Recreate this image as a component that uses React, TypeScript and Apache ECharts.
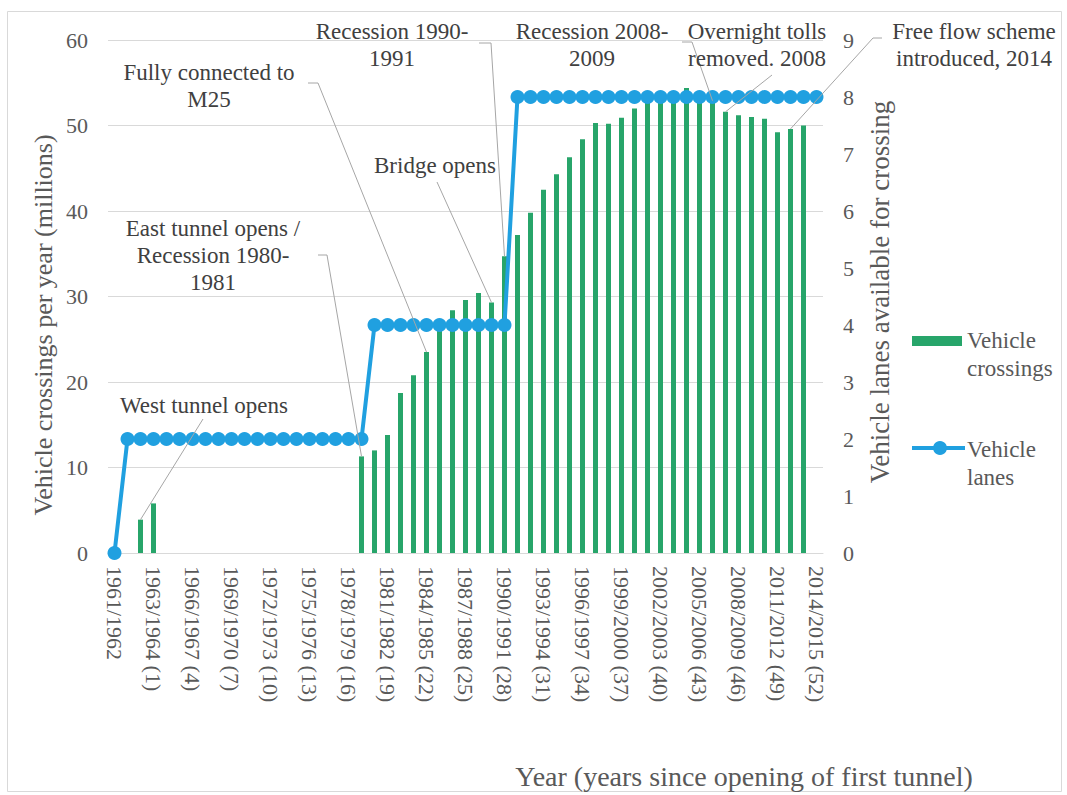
import React, { useEffect, useRef } from "react";
import * as echarts from "echarts";

const categories = [
  "1961/1962", "1962", "1962/1963 (0)", "1963/1964 (1)", "1964/1965 (2)", "1965/1966 (3)",
  "1966/1967 (4)", "1967/1968 (5)", "1968/1969 (6)", "1969/1970 (7)", "1970/1971 (8)",
  "1971/1972 (9)", "1972/1973 (10)", "1973/1974 (11)", "1974/1975 (12)", "1975/1976 (13)",
  "1976/1977 (14)", "1977/1978 (15)", "1978/1979 (16)", "1979/1980 (17)", "1980/1981 (18)",
  "1981/1982 (19)", "1982/1983 (20)", "1983/1984 (21)", "1984/1985 (22)", "1985/1986 (23)",
  "1986/1987 (24)", "1987/1988 (25)", "1988/1989 (26)", "1989/1990 (27)", "1990/1991 (28)",
  "1991/1992 (29)", "1992/1993 (30)", "1993/1994 (31)", "1994/1995 (32)", "1995/1996 (33)",
  "1996/1997 (34)", "1997/1998 (35)", "1998/1999 (36)", "1999/2000 (37)", "2000/2001 (38)",
  "2001/2002 (39)", "2002/2003 (40)", "2003/2004 (41)", "2004/2005 (42)", "2005/2006 (43)",
  "2006/2007 (44)", "2007/2008 (45)", "2008/2009 (46)", "2009/2010 (47)", "2010/2011 (48)",
  "2011/2012 (49)", "2012/2013 (50)", "2013/2014 (51)", "2014/2015 (52)",
];

// Vehicle crossings per year (millions)
const crossings: (number | null)[] = [
  null, null, 3.9, 5.8, null, null, null, null, null, null,
  null, null, null, null, null, null, null, null, null, 11.3,
  12.0, 13.8, 18.7, 20.8, 23.5, 26.8, 28.4, 29.6, 30.4, 29.3,
  34.7, 37.2, 39.8, 42.5, 44.3, 46.3, 48.4, 50.3, 50.2, 50.9,
  52.0, 52.8, 53.0, 53.2, 54.4, 53.2, 52.9, 51.6, 51.2, 51.0,
  50.8, 49.2, 49.6, 50.0, null,
];

// Vehicle lanes available for crossing
const lanes = [
  0, 2, 2, 2, 2, 2, 2, 2, 2, 2,
  2, 2, 2, 2, 2, 2, 2, 2, 2, 2,
  4, 4, 4, 4, 4, 4, 4, 4, 4, 4,
  4, 8, 8, 8, 8, 8, 8, 8, 8, 8,
  8, 8, 8, 8, 8, 8, 8, 8, 8, 8,
  8, 8, 8, 8, 8,
];

const leftTicks = { min: 0, max: 60, interval: 10 };
const rightTicks = { min: 0, max: 9, interval: 1 };

// annotation text, text centre, first line y, leader start polyline, target bar index
const annotations = [
  { text: "West tunnel opens", cx: 204, y: 405, lead: [[203, 419]], target: 2 },
  { text: "East tunnel opens /\nRecession 1980-\n1981", cx: 213, y: 228, lead: [[318, 255], [327, 255]], target: 19 },
  { text: "Fully connected to\nM25", cx: 209, y: 72, lead: [[308, 83], [318, 83]], target: 24 },
  { text: "Bridge opens", cx: 435, y: 165, lead: [[437, 182]], target: 29 },
  { text: "Recession 1990-\n1991", cx: 392, y: 31, lead: [[479, 43], [491, 43]], target: 30 },
  { text: "Recession 2008-\n2009", cx: 592, y: 31, lead: [[682, 42], [692, 42]], target: 46 },
  { text: "Overnight tolls\nremoved. 2008", cx: 757, y: 31, lead: [[772, 75]], target: 47 },
  { text: "Free flow scheme\nintroduced, 2014", cx: 974, y: 31, lead: [[882, 38], [873, 38]], target: 52 },
];

const GREEN = "#27A56A";
const BLUE = "#20A0E0";
const FONT = "Liberation Serif";
const LABEL = "#595959";
const ANNO = "#404040";

export default function App() {
  const ref = useRef<HTMLDivElement>(null);
  useEffect(() => {
    if (!ref.current) return;
    const chart = echarts.init(ref.current, null, { renderer: "svg" });
    chart.setOption({
      animation: false,
      backgroundColor: "#ffffff",
      textStyle: { fontFamily: FONT },
      grid: { left: 108, right: 244, top: 40, bottom: 242 },
      xAxis: {
        type: "category",
        data: categories,
        boundaryGap: true,
        axisLine: { show: true, lineStyle: { color: "#D9D9D9", width: 1 } },
        axisTick: { show: false },
        axisLabel: {
          interval: 2,
          rotate: -90,
          margin: 13,
          fontSize: 22,
          fontFamily: FONT,
          color: LABEL,
        },
      },
      yAxis: [
        {
          type: "value",
          ...leftTicks,
          axisLine: { show: false },
          axisTick: { show: false },
          splitLine: { show: true, lineStyle: { color: "#D9D9D9", width: 1 } },
          axisLabel: { margin: 20, fontSize: 22, fontFamily: FONT, color: LABEL },
        },
        {
          type: "value",
          ...rightTicks,
          position: "right",
          axisLine: { show: false },
          axisTick: { show: false },
          splitLine: { show: false },
          axisLabel: { margin: 20, fontSize: 22, fontFamily: FONT, color: LABEL },
        },
      ],
      series: [
        {
          name: "Vehicle crossings",
          type: "bar",
          data: crossings,
          barWidth: 5,
          itemStyle: { color: GREEN },
          yAxisIndex: 0,
          z: 2,
        },
        {
          name: "Vehicle lanes",
          type: "line",
          data: lanes,
          yAxisIndex: 1,
          symbol: "circle",
          symbolSize: 14,
          showAllSymbol: true,
          lineStyle: { color: BLUE, width: 4 },
          itemStyle: { color: BLUE },
          z: 3,
        },
      ],
    });

    const textStyle = (text: string, size: number, fill: string, align: string, valign: string, lh?: number) => ({
      text,
      fill,
      fontSize: size,
      fontFamily: FONT,
      lineHeight: lh,
      textAlign: align,
      align,
      textVerticalAlign: valign,
      verticalAlign: valign,
    });

    const graphics: any[] = [];
    graphics.push({
      type: "rect",
      shape: { x: 7.5, y: 11.5, width: 1054, height: 780 },
      style: { fill: "none", stroke: "#D9D9D9", lineWidth: 1 },
      silent: true,
    });
    annotations.forEach((a) => {
      const end = chart.convertToPixel({ seriesIndex: 0 }, [a.target, crossings[a.target] as number]);
      graphics.push({
        type: "polyline",
        shape: { points: [...a.lead, end] },
        style: { stroke: "#A6A6A6", lineWidth: 1, fill: "none" },
        z: 10,
        silent: true,
      });
      graphics.push({
        type: "text",
        x: a.cx,
        y: a.y - 13.5,
        style: textStyle(a.text, 23, ANNO, "center", "top", 27),
        z: 11,
      });
    });
    // axis names
    graphics.push({
      type: "text",
      x: 43,
      y: 325,
      rotation: Math.PI / 2,
      style: textStyle("Vehicle crossings per year (millions)", 26, LABEL, "center", "middle"),
    });
    graphics.push({
      type: "text",
      x: 880,
      y: 292,
      rotation: Math.PI / 2,
      style: textStyle("Vehicle lanes available for crossing", 27, LABEL, "center", "middle"),
    });
    graphics.push({
      type: "text",
      x: 744,
      y: 776,
      style: textStyle("Year (years since opening of first tunnel)", 28, LABEL, "center", "middle"),
    });
    // legend
    graphics.push({
      type: "rect",
      shape: { x: 912, y: 336, width: 50, height: 10 },
      style: { fill: GREEN },
    });
    graphics.push({
      type: "text",
      x: 967,
      y: 326,
      style: textStyle("Vehicle\ncrossings", 23, LABEL, "left", "top", 28),
    });
    graphics.push({
      type: "line",
      shape: { x1: 912, y1: 448, x2: 965, y2: 448 },
      style: { stroke: BLUE, lineWidth: 4 },
    });
    graphics.push({
      type: "circle",
      shape: { cx: 940, cy: 448, r: 7 },
      style: { fill: BLUE },
    });
    graphics.push({
      type: "text",
      x: 967,
      y: 435,
      style: textStyle("Vehicle\nlanes", 23, LABEL, "left", "top", 28),
    });
    chart.setOption({ graphic: graphics });
    return () => chart.dispose();
  }, []);
  return (
    <div
      ref={ref}
      style={{ position: "fixed", left: 0, top: 0, width: 1067, height: 795, background: "#fff" }}
    />
  );
}
